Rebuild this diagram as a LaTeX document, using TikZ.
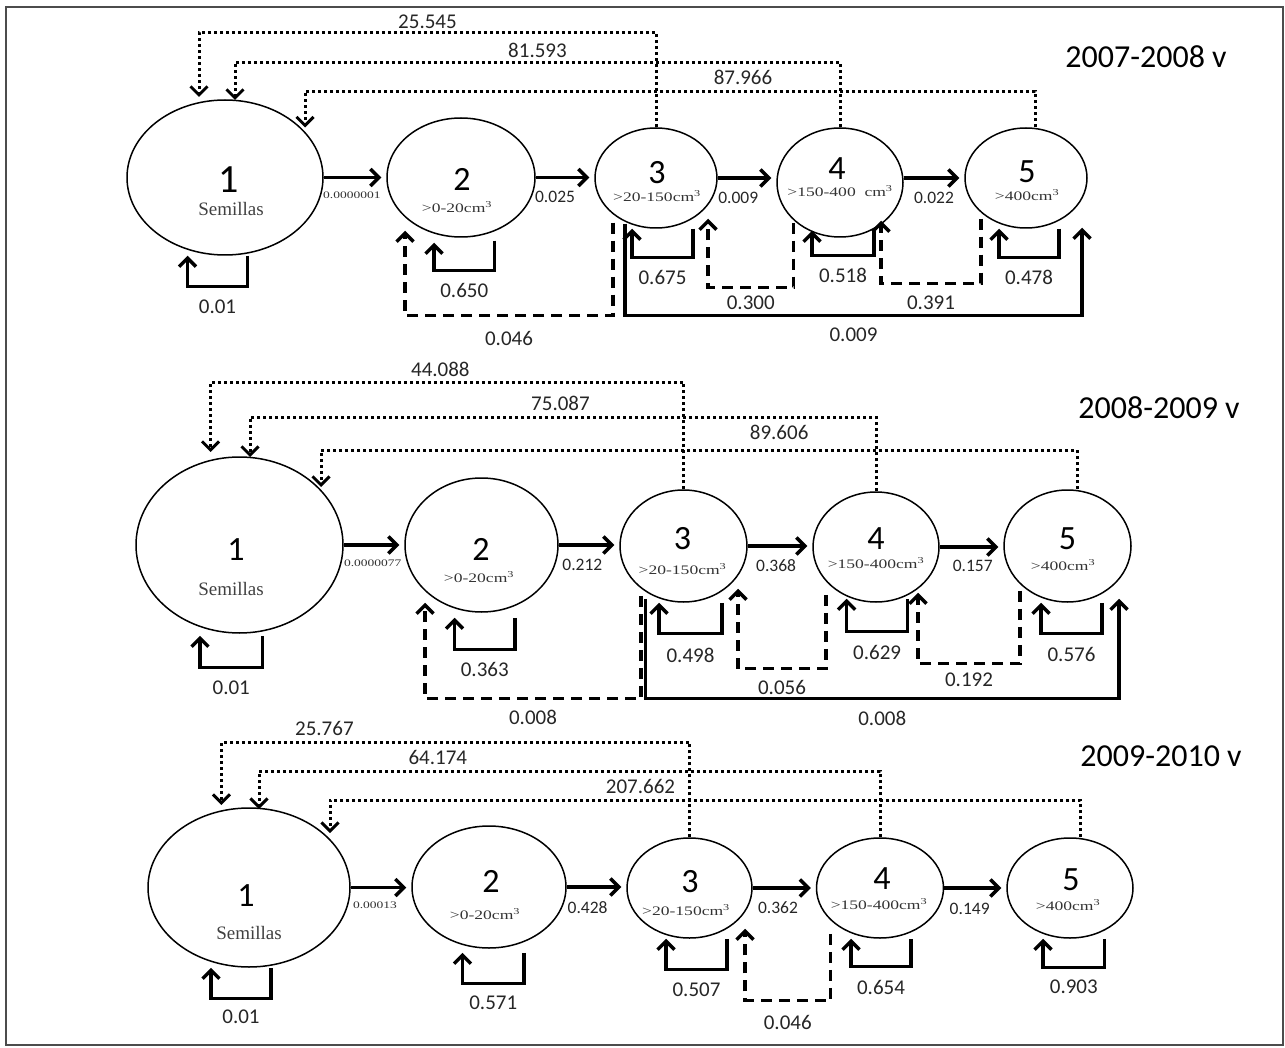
\documentclass[tikz,border=0pt]{standalone}
\usepackage{fontspec}
\setmainfont{Liberation Serif}
\setsansfont{Carlito}
\newfontfamily\subfont[FakeStretch=1.35]{Liberation Serif}
\usetikzlibrary{arrows.meta,shapes.geometric}

\begin{document}
\begin{tikzpicture}[
  x=1pt, y=-1pt,
  >={Straight Barb[length=8.5pt,width=17pt]},
  stage/.style={draw, ellipse, line width=1.5pt, inner sep=0pt},
  num/.style={font=\fontsize{34}{34}\selectfont\sffamily, inner sep=0pt},
  sub/.style={font=\fontsize{13}{13}\subfont, text=black!80, inner sep=0pt},
  semi/.style={font=\fontsize{19}{19}\selectfont, text=black!75, inner sep=0pt},
  rate/.style={font=\fontsize{10}{10}\subfont, text=black!80, inner sep=0pt},
  lbl/.style={font=\fontsize{21}{21}\selectfont\sffamily, text=black!85, inner sep=0pt},
  albl/.style={font=\fontsize{17.5}{17.5}\selectfont\sffamily, text=black!85, inner sep=0pt},
  year/.style={font=\fontsize{32}{32}\selectfont\sffamily, inner sep=0pt},
  prog/.style={->, line width=3.4pt, shorten >=5pt},
  link/.style={->, line width=3.4pt},
  retro/.style={->, line width=3.4pt, dash pattern=on 11pt off 7pt},
  repro/.style={->, line width=3pt, dash pattern=on 3pt off 3pt}]
\useasboundingbox (0,0) rectangle (1285,1048);
\draw[line width=2pt, black!70] (6,7) rectangle (1283,1045);
% ---------------- 2007-2008 v ----------------
\node[year] (ya) at (1146,57) {2007-2008 v};
\node[stage, minimum width=196pt, minimum height=155pt] (a1) at (225,177.5) {};
\node[stage, minimum width=148pt, minimum height=119pt] (a2) at (461,177.5) {};
\node[stage, minimum width=122pt, minimum height=100pt] (a3) at (656,178) {};
\node[stage, minimum width=126pt, minimum height=109pt] (a4) at (840,182.5) {};
\node[stage, minimum width=122pt, minimum height=100pt] (a5) at (1026,178) {};
\node[num, font=\fontsize{40}{40}\selectfont\sffamily] (a1n) at (229,180) {1};
\node[semi] (a1s) at (231,209) {Semillas};
\node[num] (a2n) at (462,179) {2};
\node[sub] (a2s) at (457,207) {>0-20cm\textsuperscript{3}};
\node[num] (a3n) at (657,173) {3};
\node[sub] (a3s) at (657,196) {>20-150cm\textsuperscript{3}};
\node[num] (a4n) at (837,169) {4};
\node[sub] (a4s) at (840,191) {>150-400~~cm\textsuperscript{3}};
\node[num] (a5n) at (1027,172) {5};
\node[sub] (a5s) at (1027,195) {>400cm\textsuperscript{3}};
\draw[prog] (a1.east) -- (a1.east -| a2.west) node[rate, pos=.45, below=13pt] {0.0000001};
\draw[prog] (a2.east) -- (a2.east -| a3.west) node[albl, pos=.33, below=12pt] {0.025};
\draw[prog] (a3.east) -- (a3.east -| a4.west) node[albl, pos=.35, below=12pt] {0.009};
\draw[prog] (a4.east |- a5.west) -- (a5.west) node[albl, pos=.5, below=12pt] {0.022};
% stasis
\draw[link] ([xshift=22.5pt]a1.south) -- ++(0,31) -| node[lbl, pos=.25, below=11pt] {0.01} ([xshift=-37.5pt]a1.south);
\draw[link] ([xshift=33.5pt,yshift=-3pt]a2.south) -- ++(0,30) -| node[lbl, pos=.25, below=11pt] {0.650} ([xshift=-27pt,yshift=-5pt]a2.south);
\draw[link] ([xshift=37pt]a3.south) -- ++(0,29) -| node[lbl, pos=.25, below=11pt] {0.675} ([xshift=-24pt]a3.south);
\draw[link] ([xshift=34pt,yshift=7pt]a4.south) -- ++(0,25) -| node[lbl, pos=.25, below=11pt] {0.518} ([xshift=-28pt,yshift=7pt]a4.south);
\draw[link] ([xshift=33pt]a5.south) -- ++(0,29) -| node[lbl, pos=.25, below=11pt] {0.478} ([xshift=-27pt]a5.south);
% retrogression and jump
\draw[retro] ([xshift=-43pt,yshift=6pt]a3.south) -- ++(0,93) -| node[lbl, pos=.25, below=13.4pt] {0.046} ([xshift=-56pt,yshift=7pt]a2.south);
\draw[retro] ([xshift=-46.5pt,yshift=15pt]a4.south) -- ++(0,65) -| node[lbl, pos=.25, below=6.4pt] {0.300} ([xshift=52pt,yshift=10pt]a3.south);
\draw[retro] ([xshift=-45pt,yshift=10pt]a5.south) -- ++(0,65) -| node[lbl, pos=.25, below=10.4pt] {0.391} ([xshift=41pt,yshift=17pt]a4.south);
\draw[link] ([xshift=-31pt,yshift=5pt]a3.south) -- ++(0,92) -| node[lbl, pos=.25, below=10.4pt] {0.009} ([xshift=56pt,yshift=1pt]a5.south);
% fecundity
\draw[repro] (a3.north) -- ++(0,-95) -| node[lbl, pos=.25, above=2.4pt] {25.545} ([xshift=-26pt,yshift=80.5pt]a1.center);
\draw[repro] (a4.north) -- ++(0,-65) -| node[lbl, pos=.25, above=3.4pt] {81.593} ([xshift=10pt,yshift=77.5pt]a1.center);
\draw[repro] ([xshift=9pt]a5.north) -- ++(0,-36) -| node[lbl, pos=.2, above=5.4pt] {87.966} ([xshift=80pt,yshift=50pt]a1.center);
% ---------------- 2008-2009 v ----------------
\node[year] (yb) at (1159,408) {2008-2009 v};
\node[stage, minimum width=207pt, minimum height=176pt] (b1) at (239.5,545) {};
\node[stage, minimum width=153pt, minimum height=134pt] (b2) at (481.5,545) {};
\node[stage, minimum width=127pt, minimum height=112pt] (b3) at (683.5,546) {};
\node[stage, minimum width=126pt, minimum height=110pt] (b4) at (876,547) {};
\node[stage, minimum width=127pt, minimum height=112pt] (b5) at (1067.5,546) {};
\node[num] (b1n) at (236,550) {1};
\node[semi] (b1s) at (231,589) {Semillas};
\node[num] (b2n) at (481,549) {2};
\node[sub] (b2s) at (479,577) {>0-20cm\textsuperscript{3}};
\node[num] (b3n) at (682.5,539) {3};
\node[sub] (b3s) at (682.5,569) {>20-150cm\textsuperscript{3}};
\node[num] (b4n) at (876,539) {4};
\node[sub] (b4s) at (876,563) {>150-400cm\textsuperscript{3}};
\node[num] (b5n) at (1067.5,539) {5};
\node[sub] (b5s) at (1063,565) {>400cm\textsuperscript{3}};
\draw[prog] (b1.east) -- (b1.east -| b2.west) node[rate, pos=.48, below=13.6pt] {0.0000077};
\draw[prog] (b2.east) -- (b2.east -| b3.west) node[albl, pos=.39, below=12.5pt] {0.212};
\draw[prog] (b3.east) -- (b3.east -| b4.west) node[albl, pos=.44, below=11.5pt] {0.368};
\draw[prog] (b4.east) -- (b4.east -| b5.west) node[albl, pos=.52, below=11.5pt] {0.157};
% stasis
\draw[link] ([xshift=23pt,yshift=-2pt]b1.south) -- ++(0,32) -| node[lbl, pos=.25, below=11pt] {0.01} ([xshift=-39.5pt,yshift=-2pt]b1.south);
\draw[link] ([xshift=33.5pt,yshift=-5pt]b2.south) -- ++(0,32) -| node[lbl, pos=.25, below=11pt] {0.363} ([xshift=-27pt,yshift=-5pt]b2.south);
\draw[link] ([xshift=38.5pt]b3.south) -- ++(0,31) -| node[lbl, pos=.25, below=13pt] {0.498} ([xshift=-24.5pt]b3.south);
\draw[link] ([xshift=31.7pt,yshift=4pt]b4.south) -- ++(0,33) -| node[lbl, pos=.25, below=12pt] {0.629} ([xshift=-29.4pt,yshift=4pt]b4.south);
\draw[link] ([xshift=34.5pt]b5.south) -- ++(0,31) -| node[lbl, pos=.25, below=12pt] {0.576} ([xshift=-26.5pt]b5.south);
% retrogression and jump
\draw[retro] ([xshift=-42.5pt,yshift=7pt]b3.south) -- ++(0,103) -| node[lbl, pos=.25, below=9.4pt] {0.008} ([xshift=-56.5pt,yshift=10pt]b2.south);
\draw[retro] ([xshift=-50pt,yshift=8pt]b4.south) -- ++(0,74) -| node[lbl, pos=.25, below=9.4pt] {0.056} ([xshift=54.5pt,yshift=14pt]b3.south);
\draw[retro] ([xshift=-47.5pt,yshift=12pt]b5.south) -- ++(0,73) -| node[lbl, pos=.25, below=7.4pt] {0.192} ([xshift=42pt,yshift=10pt]b4.south);
\draw[link] ([xshift=-38pt,yshift=4pt]b3.south) -- ++(0,100) -| node[lbl, pos=.25, below=10.4pt] {0.008} ([xshift=51.5pt,yshift=4pt]b5.south);
% fecundity
\draw[repro] (b3.north) -- ++(0,-107) -| node[lbl, pos=.257, above=4.4pt] {44.088} ([xshift=-29pt,yshift=93pt]b1.center);
\draw[repro] (b4.north) -- ++(0,-74) -| node[lbl, pos=.252, above=5.4pt] {75.087} ([xshift=10.5pt,yshift=88pt]b1.center);
\draw[repro] ([xshift=9.5pt]b5.north) -- ++(0,-39) -| node[lbl, pos=.197, above=9.4pt] {89.606} ([xshift=81.5pt,yshift=58pt]b1.center);
% ---------------- 2009-2010 v ----------------
\node[year] (yc) at (1161,756) {2009-2010 v};
\node[stage, minimum width=202pt, minimum height=159pt] (c1) at (249,887.5) {};
\node[stage, minimum width=154pt, minimum height=122pt] (c2) at (489,887) {};
\node[stage, minimum width=125pt, minimum height=100pt] (c3) at (689.5,888) {};
\node[stage, minimum width=127pt, minimum height=100pt] (c4) at (880,888) {};
\node[stage, minimum width=126pt, minimum height=100pt] (c5) at (1070,888) {};
\node[num] (c1n) at (246,896) {1};
\node[semi] (c1s) at (249,933) {Semillas};
\node[num] (c2n) at (491,881) {2};
\node[sub] (c2s) at (485,914) {>0-20cm\textsuperscript{3}};
\node[num] (c3n) at (690,882) {3};
\node[sub] (c3s) at (686,910) {>20-150cm\textsuperscript{3}};
\node[num] (c4n) at (882,879) {4};
\node[sub] (c4s) at (879,904) {>150-400cm\textsuperscript{3}};
\node[num] (c5n) at (1071,880) {5};
\node[sub] (c5s) at (1068,905) {>400cm\textsuperscript{3}};
\draw[prog] (c1.east) -- (c1.east -| c2.west) node[rate, pos=.4, below=13pt] {0.00013};
\draw[prog] (c2.east) -- (c2.east -| c3.west) node[albl, pos=.35, below=12.5pt] {0.428};
\draw[prog] (c3.east) -- (c3.east -| c4.west) node[albl, pos=.4, below=11.5pt] {0.362};
\draw[prog] (c4.east) -- (c4.east -| c5.west) node[albl, pos=.41, below=13pt] {0.149};
% stasis
\draw[link] ([xshift=22pt]c1.south) -- ++(0,31) -| node[lbl, pos=.25, below=9.4pt] {0.01} ([xshift=-38pt]c1.south);
\draw[link] ([xshift=35pt,yshift=-4pt]c2.south) -- ++(0,31) -| node[lbl, pos=.25, below=10.4pt] {0.571} ([xshift=-26.5pt,yshift=-4pt]c2.south);
\draw[link] ([xshift=37.5pt]c3.south) -- ++(0,31) -| node[lbl, pos=.25, below=11.4pt] {0.507} ([xshift=-23.5pt]c3.south);
\draw[link] ([xshift=31pt]c4.south) -- ++(0,28) -| node[lbl, pos=.25, below=11.4pt] {0.654} ([xshift=-29pt]c4.south);
\draw[link] ([xshift=34.6pt]c5.south) -- ++(0,29) -| node[lbl, pos=.25, below=10.4pt] {0.903} ([xshift=-27pt]c5.south);
% retrogression
\draw[retro] ([xshift=-49.5pt,yshift=5pt]c4.south) -- ++(0,67) -| node[lbl, pos=.25, below=12.4pt] {0.046} ([xshift=55.5pt,yshift=10pt]c3.south);
% fecundity
\draw[repro] (c3.north) -- ++(0,-95) -| node[lbl, pos=.39, above=5.4pt] {25.767} ([xshift=-27.6pt,yshift=82.5pt]c1.center);
\draw[repro] (c4.north) -- ++(0,-66) -| node[lbl, pos=.356, above=5.4pt] {64.174} ([xshift=10pt,yshift=78.5pt]c1.center);
\draw[repro] ([xshift=10pt]c5.north) -- ++(0,-37) -| node[lbl, pos=.293, above=5.4pt] {207.662} ([xshift=81pt,yshift=54.5pt]c1.center);
\end{tikzpicture}
\end{document}
